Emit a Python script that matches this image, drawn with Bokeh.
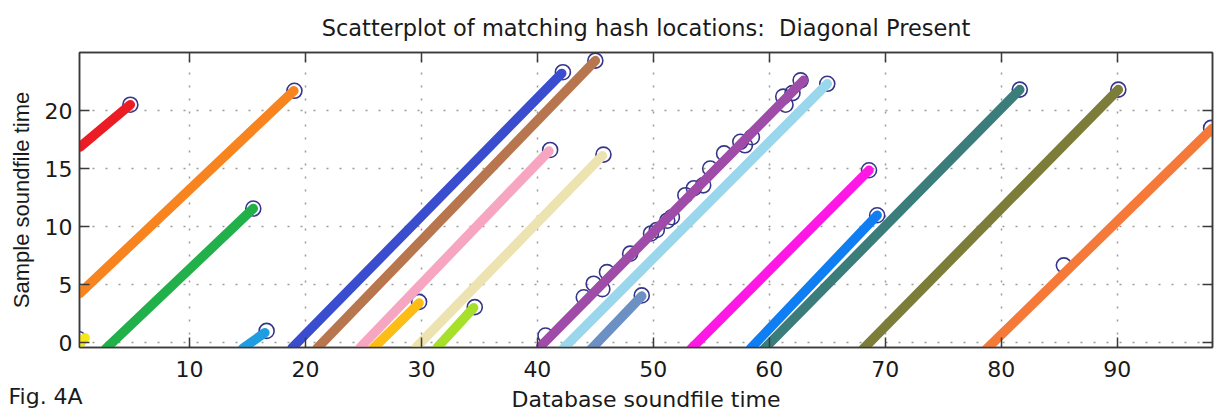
from bokeh.plotting import figure
from bokeh.models import Range1d, LinearAxis, Title, FixedTicker, ColumnDataSource
from bokeh.embed import file_html
from bokeh.resources import INLINE

# ---- data ----
x_ticks = [10, 20, 30, 40, 50, 60, 70, 80, 90]
y_ticks = [0, 5, 10, 15, 20]

# diagonal segments: start (x0, y0) -> end (x1, y1)
seg_x0 = [0.55, 0.55, 2.76, 0.10, 14.6, 18.85, 21.0, 24.7, 25.75, 29.6, 31.35, 40.3, 42.2, 44.6, 53.25, 58.4, 59.5, 68.1, 78.7]
seg_y0 = [16.85, 4.25, -0.55, -0.45, -0.5, -0.46, -0.5, -0.45, -0.6, -0.35, -0.45, -0.3, -0.55, -0.6, -0.55, -0.5, -0.6, -0.55, -0.6]
seg_x1 = [4.9, 19.0, 15.5, 1.0, 16.5, 42.1, 45.0, 41.0, 29.8, 45.6, 34.5, 62.96, 65.0, 49.0, 68.6, 69.3, 81.6, 90.1, 98.2]
seg_y1 = [20.5, 21.7, 11.55, 0.4, 0.85, 23.2, 24.3, 16.5, 3.4, 16.1, 3.0, 22.6, 22.3, 4.0, 14.85, 10.97, 21.8, 21.8, 18.45]
seg_colors = ["#ec1c24", "#f7841f", "#22b04a", "#f5e71a", "#1e9ee0", "#3a4dce", "#b8764f",
              "#f7a6c2", "#fdbd14", "#ede3b0", "#a6e02a", "#9e4ca8", "#9ad6ec", "#6c8fc4",
              "#ff17e6", "#0f7ef2", "#3b7d7a", "#7d7d3a", "#f57a3a"]

# matching hash locations (open circles)
hit_x = [4.9, 19.05, 15.5, 0.45, 16.65, 42.2, 45.0, 41.1, 29.8, 45.7, 34.6, 65.0, 49.0, 68.6, 69.3, 81.6, 90.1, 98.1, 85.4,
         40.7, 44.0, 44.85, 45.6, 46.0, 48.0, 49.8, 50.3, 51.2, 51.6, 52.76, 53.5, 54.3, 54.9, 56.1, 57.5, 57.9, 58.5,
         61.2, 61.4, 62.0, 62.7]
hit_y = [20.5, 21.7, 11.55, 0.3, 1.0, 23.3, 24.3, 16.6, 3.5, 16.2, 3.05, 22.3, 4.06, 14.85, 10.97, 21.8, 21.8, 18.5, 6.65,
         0.6, 3.9, 5.07, 4.6, 6.07, 7.66, 9.4, 9.7, 10.5, 10.8, 12.7, 13.3, 13.55, 15.0, 16.3, 17.3, 17.0, 17.7,
         21.2, 20.5, 21.5, 22.6]

FONT_H = "DejaVu Sans"       # horizontal texts (the scan is stretched sideways)
FONT_V = "Liberation Sans"   # vertical axis label
DARK = "#3a3a3a"
TXT = "#1a1a1a"

p = figure(width=1215, height=416, output_backend="svg", toolbar_location=None,
           x_range=Range1d(0.514, 98.22), y_range=Range1d(-0.43, 25.0),
           min_border_left=79, min_border_right=3, min_border_top=52, min_border_bottom=69,
           background_fill_color="white", border_fill_color="white")

p.title.text = "Scatterplot of matching hash locations:\u00a0 Diagonal Present"
p.title.align = "center"
p.title.vertical_align = "top"
p.title.text_font = FONT_H
p.title.text_font_size = "22.5px"
p.title.text_font_style = "normal"
p.title.text_color = TXT
p.title.standoff = 20

p.outline_line_color = DARK
p.outline_line_width = 1.5

for ax in (p.xaxis[0], p.yaxis[0]):
    ax.axis_line_color = DARK
    ax.axis_line_width = 1.5
    ax.major_tick_in = 10
    ax.major_tick_out = 0
    ax.major_tick_line_color = DARK
    ax.major_tick_line_width = 1.5
    ax.minor_tick_line_color = None
    ax.major_label_text_font = FONT_H
    ax.major_label_text_font_size = "22px"
    ax.major_label_text_color = TXT
    ax.axis_label_text_font_style = "normal"
    ax.axis_label_text_color = TXT

p.xaxis.ticker = FixedTicker(ticks=x_ticks)
p.yaxis.ticker = FixedTicker(ticks=y_ticks)
p.xaxis.axis_label = "Database soundfile time"
p.yaxis.axis_label = "Sample soundfile time"
p.xaxis.axis_label_text_font = FONT_H
p.xaxis.axis_label_text_font_size = "22px"
p.yaxis.axis_label_text_font = FONT_V
p.yaxis.axis_label_text_font_size = "22px"
p.xaxis.major_label_standoff = 13
p.xaxis.axis_label_standoff = 7
p.yaxis.major_label_standoff = 7
p.yaxis.axis_label_standoff = 8

for loc, tk in (("above", x_ticks), ("right", y_ticks)):
    ax = LinearAxis(ticker=FixedTicker(ticks=tk), major_label_text_font_size="1px",
                    major_label_text_color=None, major_label_standoff=0,
                    major_tick_in=10, major_tick_out=0,
                    major_tick_line_color=DARK, major_tick_line_width=1.5,
                    minor_tick_line_color=None, axis_line_color=DARK, axis_line_width=1.5)
    p.add_layout(ax, loc)

p.xgrid.ticker = FixedTicker(ticks=x_ticks)
p.ygrid.ticker = FixedTicker(ticks=y_ticks)
for g in (p.xgrid[0], p.ygrid[0]):
    g.grid_line_color = "#9a9a9a"
    g.grid_line_dash = "2 11"
    g.grid_line_width = 1.5

hits = ColumnDataSource(dict(x=hit_x, y=hit_y))
p.scatter("x", "y", source=hits, marker="circle", size=15, fill_color=None,
          line_color="#35358a", line_width=1.6)

segs = ColumnDataSource(dict(x0=seg_x0, y0=seg_y0, x1=seg_x1, y1=seg_y1, c=seg_colors))
p.segment("x0", "y0", "x1", "y1", source=segs, line_color="c", line_width=9.5, line_cap="round")

fig_title = Title(text="Fig. 4A", align="left", vertical_align="top", offset=-71, standoff=-62,
                  text_font=FONT_H, text_font_size="22px", text_font_style="normal", text_color=TXT)
p.add_layout(fig_title, "below")

open("out.html", "w").write(file_html(p, INLINE))
